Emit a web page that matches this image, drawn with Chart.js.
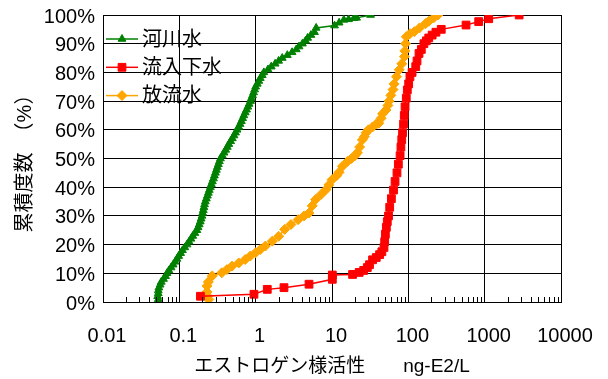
<!DOCTYPE html>
<html>
<head>
<meta charset="utf-8">
<script src="https://cdn.jsdelivr.net/npm/chart.js@4/dist/chart.umd.min.js"></script>
<style>
html, body { margin: 0; padding: 0; background: #fff; }
</style>
</head>
<body>
<canvas id="chart" width="608" height="379"></canvas>
<script>
// 河川水 (river water)
const riverX = [0.053, 0.053, 0.052, 0.053, 0.053, 0.054, 0.056, 0.058, 0.062, 0.066, 0.069, 0.073, 0.078, 0.083, 0.088, 0.093, 0.098, 0.104, 0.11, 0.118,
    0.126, 0.134, 0.142, 0.15, 0.16, 0.17, 0.176, 0.182, 0.188, 0.193, 0.198, 0.202, 0.206, 0.21, 0.214, 0.219, 0.226, 0.233, 0.24, 0.247,
    0.255, 0.263, 0.271, 0.28, 0.288, 0.297, 0.306, 0.315, 0.325, 0.335, 0.346, 0.365, 0.385, 0.405, 0.425, 0.445, 0.47, 0.495, 0.52, 0.545,
    0.571, 0.6, 0.625, 0.65, 0.675, 0.7, 0.73, 0.76, 0.79, 0.82, 0.857, 0.88, 0.91, 0.94, 0.97, 1.0, 1.05, 1.1, 1.15, 1.22,
    1.28, 1.45, 1.6, 1.8, 2.0, 2.23, 2.6, 3.0, 3.4, 3.7, 4.1, 4.5, 4.8, 5.3, 5.9, 6.2, 10.8, 12.4, 14.3, 16.5, 19.4, 21, 32];
const riverY = [0, 1, 2, 3, 4, 5, 6, 7, 8, 9, 10, 11, 12, 13, 14, 15, 16, 17, 18, 19,
    20, 21, 22, 23, 24, 25, 26, 27, 28, 29, 30, 31, 32, 33, 34, 35, 36, 37, 38, 39,
    40, 41, 42, 43, 44, 45, 46, 47, 48, 49, 50, 51, 52, 53, 54, 55, 56, 57, 58, 59,
    60, 61, 62, 63, 64, 65, 66, 67, 68, 69, 70, 71, 72, 73, 74, 75, 76, 77, 78, 79,
    80, 81, 82, 83, 84, 85, 86, 87, 88, 89, 90, 91, 92, 93, 94, 95.5, 96.3, 97.3, 98.3, 98.5, 98.9, 99, 100];

// 流入下水 (influent sewage)
const inflowX = [0.189, 0.95, 1.42, 2.35, 5.0, 10.1, 10.1, 18.6, 22.7, 26, 29, 31, 34, 38, 42, 45, 48, 49, 50, 51.5,
    53, 55, 57, 60, 64, 67, 71, 74, 78, 80, 82, 84, 86.6, 88.5, 90.6, 94, 97, 101, 105, 112,
    125, 130, 138, 148, 160, 172, 185, 205, 230, 270, 570, 835, 1130, 2830];
const inflowY = [2, 2.7, 4.4, 5, 6.2, 7.9, 9.4, 9.6, 10.3, 11, 12, 13, 14.7, 15.5, 16.5, 17.5, 19, 21, 23.6, 26,
    28, 30, 33, 36, 39, 42, 45, 48, 51, 54, 56.6, 59, 62, 65, 68, 71, 73.9, 76, 78.5, 80,
    82, 84, 86.6, 88, 90, 91, 92, 93, 94, 95, 96.5, 97.7, 98.7, 100];

// 放流水 (treated effluent)
const effluentX = [0.243, 0.235, 0.23, 0.23, 0.24, 0.27, 0.36, 0.42, 0.49, 0.6, 0.73, 0.85, 1.0, 1.15, 1.34, 1.65, 2.0, 2.4, 2.9, 3.6,
    4.3, 5.0, 5.5, 6.1, 7.2, 8.3, 9.1, 10, 11.5, 12.4, 13.7, 16, 18, 20, 21.5, 23, 25, 26.5, 28, 30,
    34, 38, 41, 44, 46, 51, 54, 56, 59, 63, 65, 70, 76, 82, 89, 90, 92, 94, 105, 120,
    140, 168, 185, 215, 244];
const effluentY = [0.9, 2, 3.5, 5.6, 7, 9.1, 10.2, 11.3, 12.5, 13.6, 14.8, 16, 17.2, 18.3, 19.5, 21.2, 22.9, 25.3, 27, 28.7,
    30, 31, 33.5, 35.7, 37.5, 39.1, 40.8, 42.6, 44, 45.2, 47.3, 49, 50, 51, 52, 54, 56.5, 57.6, 59, 60,
    61, 62, 62.3, 64, 65.6, 66.9, 68.5, 70, 72, 74, 76, 78.5, 80.9, 83, 85.5, 87.5, 90, 92.4, 93.5, 94.2,
    95.5, 97, 97.8, 99, 100];

const seriesNames = ['河川水', '流入下水', '放流水'];
const xTicks = [0.01, 0.1, 1, 10, 100, 1000, 10000];
const xTickLabels = ['0.01', '0.1', '1', '10', '100', '1000', '10000'];
const yTicks = [0, 10, 20, 30, 40, 50, 60, 70, 80, 90, 100];

function toPoints(xs, ys) {
    return xs.map((x, i) => ({ x: x, y: ys[i] }));
}

// Latin glyphs from Liberation Sans, Japanese falls back to Noto Sans CJK JP
const family = "'Liberation Sans', 'Noto Sans CJK JP', sans-serif";

// minor tick marks (2..9 in every decade) along the bottom edge, pointing up
const minorTicks = {
    id: 'minorTicks',
    afterDraw(chart) {
        const ctx = chart.ctx;
        const xs = chart.scales.x;
        const bottom = chart.chartArea.bottom;
        ctx.save();
        ctx.strokeStyle = '#000';
        ctx.lineWidth = 1;
        ctx.beginPath();
        for (let d = 0; d < xTicks.length - 1; d++) {
            for (let m = 2; m <= 9; m++) {
                const px = Math.round(xs.getPixelForValue(xTicks[d] * m)) + 0.5;
                ctx.moveTo(px, bottom);
                ctx.lineTo(px, bottom - 5);
            }
        }
        ctx.stroke();
        ctx.restore();
    }
};

// legend drawn inside the plot area, line + marker like the original
const insideLegend = {
    id: 'insideLegend',
    afterDraw(chart) {
        const ctx = chart.ctx;
        const left = chart.chartArea.left;
        ctx.save();
        chart.data.datasets.forEach((ds, i) => {
            const y = 39 + i * 28.3;
            ctx.strokeStyle = ds.borderColor;
            ctx.lineWidth = 1.5;
            ctx.beginPath();
            ctx.moveTo(left + 3, y);
            ctx.lineTo(left + 35, y);
            ctx.stroke();
            ctx.fillStyle = ds.backgroundColor;
            ctx.lineWidth = 1;
            Chart.helpers.drawPoint(ctx, {
                pointStyle: ds.pointStyle,
                radius: ds.pointRadius,
                rotation: 0,
                borderWidth: 1
            }, left + 19, y);
            ctx.fillStyle = '#000';
            ctx.font = '20px ' + family;
            ctx.textBaseline = 'middle';
            ctx.textAlign = 'left';
            ctx.fillText(ds.label, left + 39, y + 1);
        });
        ctx.restore();
    }
};

const ctx = document.getElementById('chart').getContext('2d');
new Chart(ctx, {
    type: 'scatter',
    data: {
        datasets: [{
            label: seriesNames[0],
            data: toPoints(riverX, riverY),
            showLine: true,
            borderColor: '#008000',
            backgroundColor: '#008000',
            borderWidth: 1.5,
            pointStyle: 'triangle',
            pointRadius: 4.5,
            pointBorderWidth: 1
        }, {
            label: seriesNames[1],
            data: toPoints(inflowX, inflowY),
            showLine: true,
            borderColor: '#ff0000',
            backgroundColor: '#ff0000',
            borderWidth: 1.5,
            pointStyle: 'rect',
            pointRadius: 5.5,
            pointBorderWidth: 1
        }, {
            label: seriesNames[2],
            data: toPoints(effluentX, effluentY),
            showLine: true,
            borderColor: '#ffa500',
            backgroundColor: '#ffa500',
            borderWidth: 1.5,
            pointStyle: 'rectRot',
            pointRadius: 5,
            pointBorderWidth: 1
        }]
    },
    options: {
        responsive: false,
        animation: false,
        layout: { padding: { top: 15, right: 47, bottom: 0, left: 0 } },
        plugins: {
            legend: { display: false },
            tooltip: { enabled: false }
        },
        scales: {
            x: {
                type: 'logarithmic',
                min: 0.01,
                max: 10000,
                afterBuildTicks: (scale) => {
                    scale.ticks = xTicks.map(v => ({ value: v }));
                },
                afterFit: (scale) => {
                    scale.height = 77;
                    scale.paddingLeft = 0;
                    scale.paddingRight = 0;
                },
                grid: { color: '#000', lineWidth: 1, drawTicks: false },
                border: { color: '#000', width: 1 },
                ticks: {
                    color: '#000',
                    font: { family: family, size: 20 },
                    padding: 22,
                    labelOffset: 4,
                    maxRotation: 0,
                    autoSkip: false,
                    callback: (v) => {
                        const i = xTicks.indexOf(v);
                        return i >= 0 ? xTickLabels[i] : '';
                    }
                },
                title: {
                    display: true,
                    text: 'エストロゲン様活性　　ng-E2/L',
                    color: '#000',
                    font: { family: family, size: 19 },
                    padding: { top: 0, bottom: 1 }
                }
            },
            y: {
                min: 0,
                max: 100,
                afterBuildTicks: (scale) => {
                    scale.ticks = yTicks.map(v => ({ value: v }));
                },
                afterFit: (scale) => {
                    scale.width = 103;
                    scale.paddingTop = 0;
                    scale.paddingBottom = 0;
                },
                grid: { color: '#000', lineWidth: 1, drawTicks: false },
                border: { color: '#000', width: 1 },
                ticks: {
                    color: '#000',
                    font: { family: family, size: 20 },
                    padding: 8,
                    labelOffset: 2,
                    callback: (v) => v + '%'
                },
                title: {
                    display: true,
                    text: '累積度数　（%）',
                    color: '#000',
                    font: { family: family, size: 20 },
                    padding: { top: 13, bottom: 0 }
                }
            }
        }
    },
    plugins: [minorTicks, insideLegend]
});
</script>
</body>
</html>
